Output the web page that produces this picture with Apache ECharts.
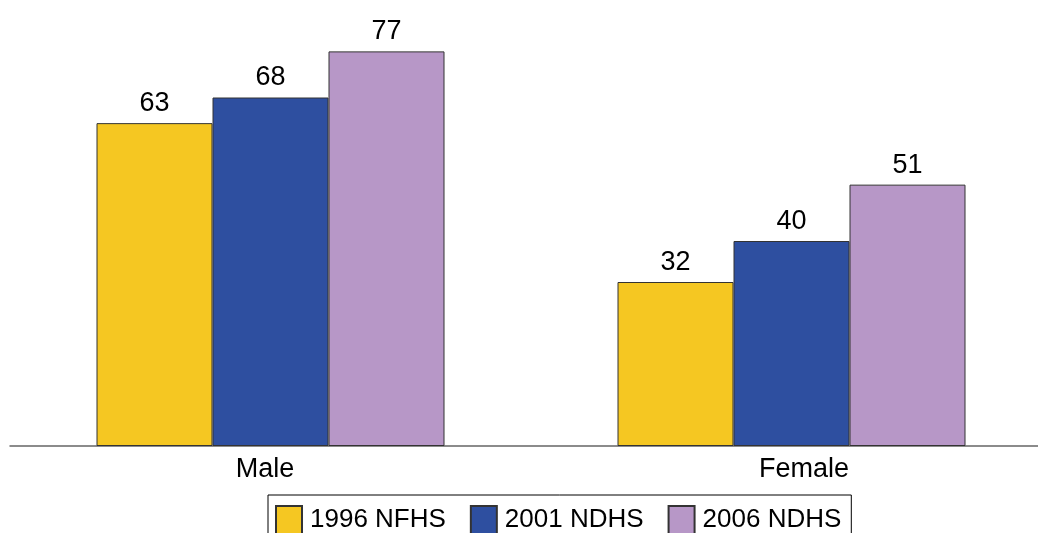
<!DOCTYPE html>
<html>
<head>
<meta charset="utf-8">
<script src="https://cdn.jsdelivr.net/npm/echarts@6/dist/echarts.min.js"></script>
<style>
html,body{margin:0;padding:0;background:#fff;}
#chart{width:1038px;height:533px;}
</style>
</head>
<body>
<div id="chart"></div>
<script>
const categories = ['Male', 'Female'];
const seriesNames = ['1996 NFHS', '2001 NDHS', '2006 NDHS'];
const values1996 = [63, 32];
const values2001 = [68, 40];
const values2006 = [77, 51];

const colors = ['#F5C722', '#2E4FA0', '#B797C7'];
const labelPad = [[0, 11, 0, 0], [0, 0, 0, 25]];
const font = '"Liberation Sans", Arial, sans-serif';

const chart = echarts.init(document.getElementById('chart'));
const allValues = [values1996, values2001, values2006];

chart.setOption({
  animation: false,
  backgroundColor: '#fff',
  grid: { left: 10, top: 36, width: 1042, height: 410, containLabel: false, outerBoundsMode: 'none' },
  legend: {
    left: 268,
    top: 495,
    orient: 'horizontal',
    itemWidth: 26,
    itemHeight: 28,
    itemGap: 24,
    padding: [10, 10, 10, 7],
    borderColor: '#000',
    borderWidth: 1,
    icon: 'rect',
    textStyle: { fontFamily: font, fontSize: 26, color: '#000', padding: [2, 0, 0, 3] },
    data: seriesNames
  },
  xAxis: {
    type: 'category',
    data: categories.map((c, i) => ({ value: c, textStyle: { padding: labelPad[i] } })),
    axisLine: { show: true, lineStyle: { color: '#666', width: 1.5 } },
    axisTick: { show: false },
    axisLabel: { fontFamily: font, fontSize: 27, color: '#000', margin: 10 },
    splitLine: { show: false }
  },
  yAxis: {
    type: 'value',
    min: 0,
    max: 80,
    show: false
  },
  series: allValues.map((vals, i) => ({
    name: seriesNames[i],
    type: 'bar',
    data: vals,
    barWidth: 116,
    barGap: '0%',
    itemStyle: { color: colors[i], borderColor: '#333', borderWidth: 1 },
    label: {
      show: true,
      position: 'top',
      distance: 6,
      fontFamily: font,
      fontSize: 27,
      color: '#000'
    }
  }))
});
</script>
</body>
</html>
